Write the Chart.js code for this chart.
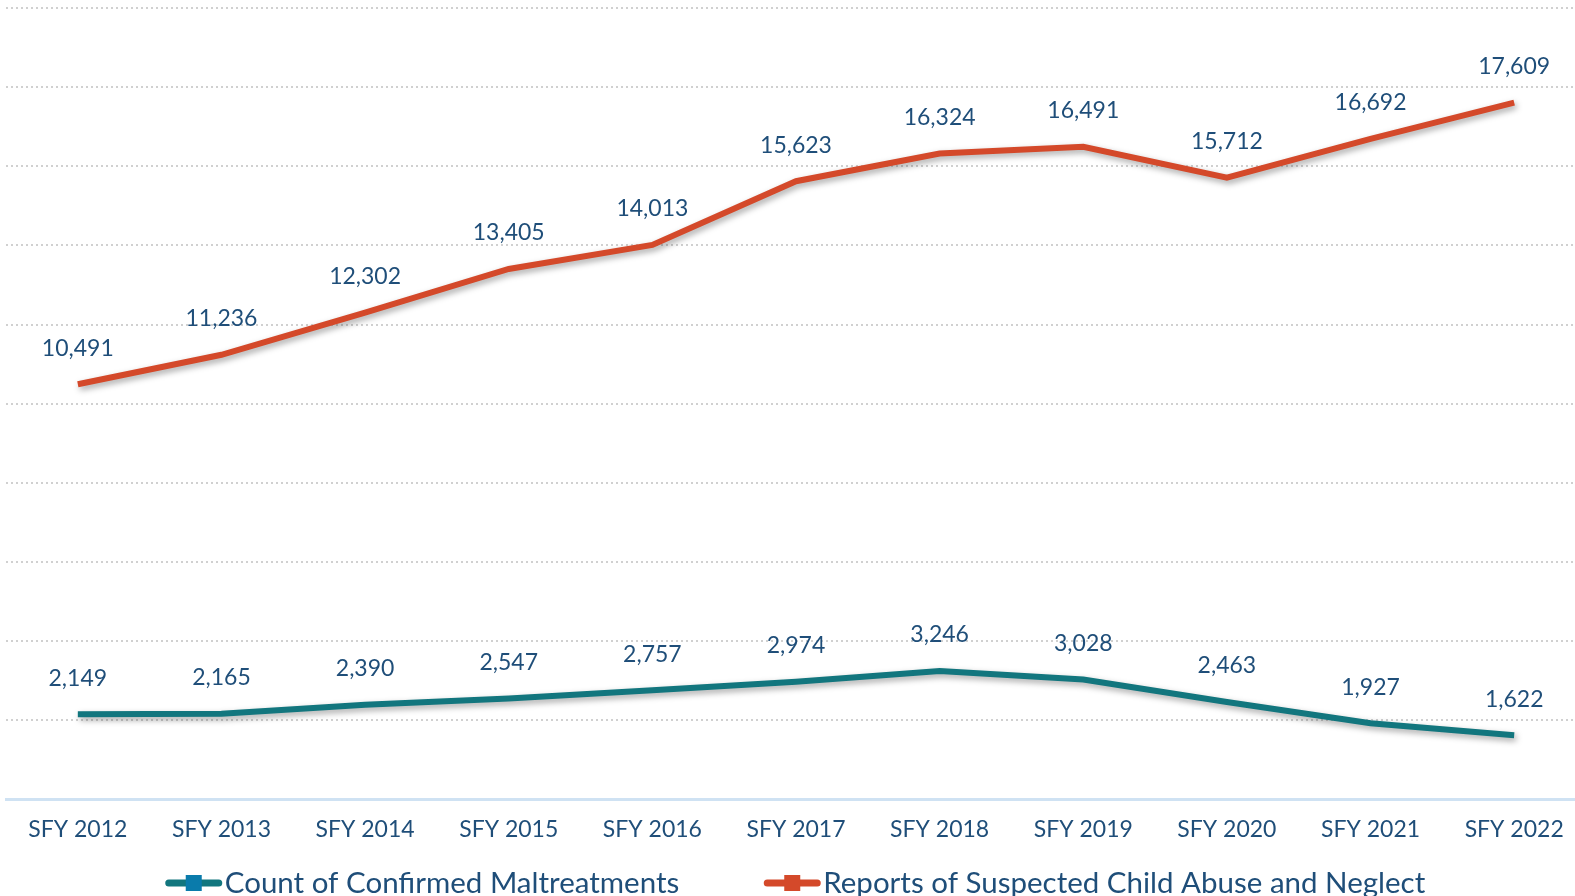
<!DOCTYPE html>
<html>
<head>
<meta charset="utf-8">
<script src="https://cdn.jsdelivr.net/npm/chart.js@4.4.0/dist/chart.umd.min.js"></script>
<style>
  html, body { margin: 0; padding: 0; background: #fff; overflow: hidden; }
  #wrap { width: 1586px; height: 896px; position: relative; }
</style>
</head>
<body>
<div id="wrap"><canvas id="trendChart"></canvas></div>
<script>
// chart data
const years = ['SFY 2012', 'SFY 2013', 'SFY 2014', 'SFY 2015', 'SFY 2016', 'SFY 2017',
               'SFY 2018', 'SFY 2019', 'SFY 2020', 'SFY 2021', 'SFY 2022'];
const confirmed = [2149, 2165, 2390, 2547, 2757, 2974, 3246, 3028, 2463, 1927, 1622];
const reports = [10491, 11236, 12302, 13405, 14013, 15623, 16324, 16491, 15712, 16692, 17609];

const textColor = '#1f4e79';
const fontFamily = "Lato, 'Open Sans', sans-serif";

// draws the value above each point
const valueLabels = {
    id: 'valueLabels',
    afterDatasetsDraw(chart) {
        const ctx = chart.ctx;
        ctx.save();
        ctx.font = '23px ' + fontFamily;
        ctx.fillStyle = textColor;
        ctx.textAlign = 'center';
        ctx.textBaseline = 'middle';
        chart.data.datasets.forEach((ds, i) => {
            chart.getDatasetMeta(i).data.forEach((pt, j) => {
                ctx.fillText(ds.data[j].toLocaleString('en-US'), pt.x, pt.y - 36);
            });
        });
        ctx.restore();
    }
};

// soft shadow under the lines
const lineShadow = {
    id: 'lineShadow',
    beforeDatasetsDraw(chart) {
        const ctx = chart.ctx;
        ctx.save();
        ctx.shadowColor = 'rgba(0,0,0,0.35)';
        ctx.shadowBlur = 6;
        ctx.shadowOffsetX = 2;
        ctx.shadowOffsetY = 3;
    },
    afterDatasetsDraw(chart) {
        chart.ctx.restore();
    }
};

// legend at the bottom: line with a square, then the label
const bottomLegend = {
    id: 'bottomLegend',
    afterDraw(chart) {
        const ctx = chart.ctx;
        const y = 883;
        const markerW = 58, markGap = 2, itemGap = 84;
        ctx.save();
        ctx.font = '29.5px ' + fontFamily;
        ctx.textBaseline = 'middle';
        const items = chart.data.datasets.map(ds => ({
            ds: ds,
            w: markerW + markGap + ctx.measureText(ds.label).width
        }));
        const total = items.reduce((s, it) => s + it.w, 0) + itemGap * (items.length - 1);
        let x = 795 - total / 2;
        items.forEach(it => {
            ctx.strokeStyle = it.ds.borderColor;
            ctx.lineWidth = 7;
            ctx.lineCap = 'round';
            ctx.beginPath();
            ctx.moveTo(x + 4, y);
            ctx.lineTo(x + markerW - 4, y);
            ctx.stroke();
            ctx.fillStyle = it.ds.markerColor;
            ctx.fillRect(x + 21, y - 8, 16, 16);
            ctx.fillStyle = textColor;
            ctx.fillText(it.ds.label, x + markerW + markGap, y);
            x += it.w + itemGap;
        });
        ctx.restore();
    }
};

document.addEventListener('DOMContentLoaded', function() {
    const ctx = document.getElementById('trendChart');

    new Chart(ctx, {
        type: 'line',
        data: {
            labels: years,
            datasets: [{
                label: 'Count of Confirmed Maltreatments',
                data: confirmed,
                borderColor: '#12767e',
                backgroundColor: '#12767e',
                markerColor: '#0a7bab',
                borderWidth: 6,
                pointRadius: 0,
                tension: 0
            }, {
                label: 'Reports of Suspected Child Abuse and Neglect',
                data: reports,
                borderColor: '#d4492a',
                backgroundColor: '#d4492a',
                markerColor: '#d4492a',
                borderWidth: 6,
                pointRadius: 0,
                tension: 0
            }]
        },
        options: {
            responsive: true,
            maintainAspectRatio: false,
            animation: false,
            layout: {
                padding: { left: 6, right: 0, top: 8, bottom: 37 }
            },
            scales: {
                x: {
                    offset: true,
                    grid: { display: false, drawTicks: false },
                    border: { display: true, color: '#cfe2f3', width: 3 },
                    ticks: {
                        color: textColor,
                        font: { family: fontFamily, size: 23 },
                        padding: 16,
                        maxRotation: 0
                    }
                },
                y: {
                    min: 0,
                    max: 20000,
                    ticks: { display: false, stepSize: 2000 },
                    border: { display: false, dash: [2, 3] },
                    grid: {
                        color: '#d0d0d0',
                        lineWidth: 2,
                        drawTicks: false
                    }
                }
            },
            plugins: {
                legend: { display: false },
                tooltip: { enabled: false }
            }
        },
        plugins: [lineShadow, valueLabels, bottomLegend]
    });
});
</script>
</body>
</html>
